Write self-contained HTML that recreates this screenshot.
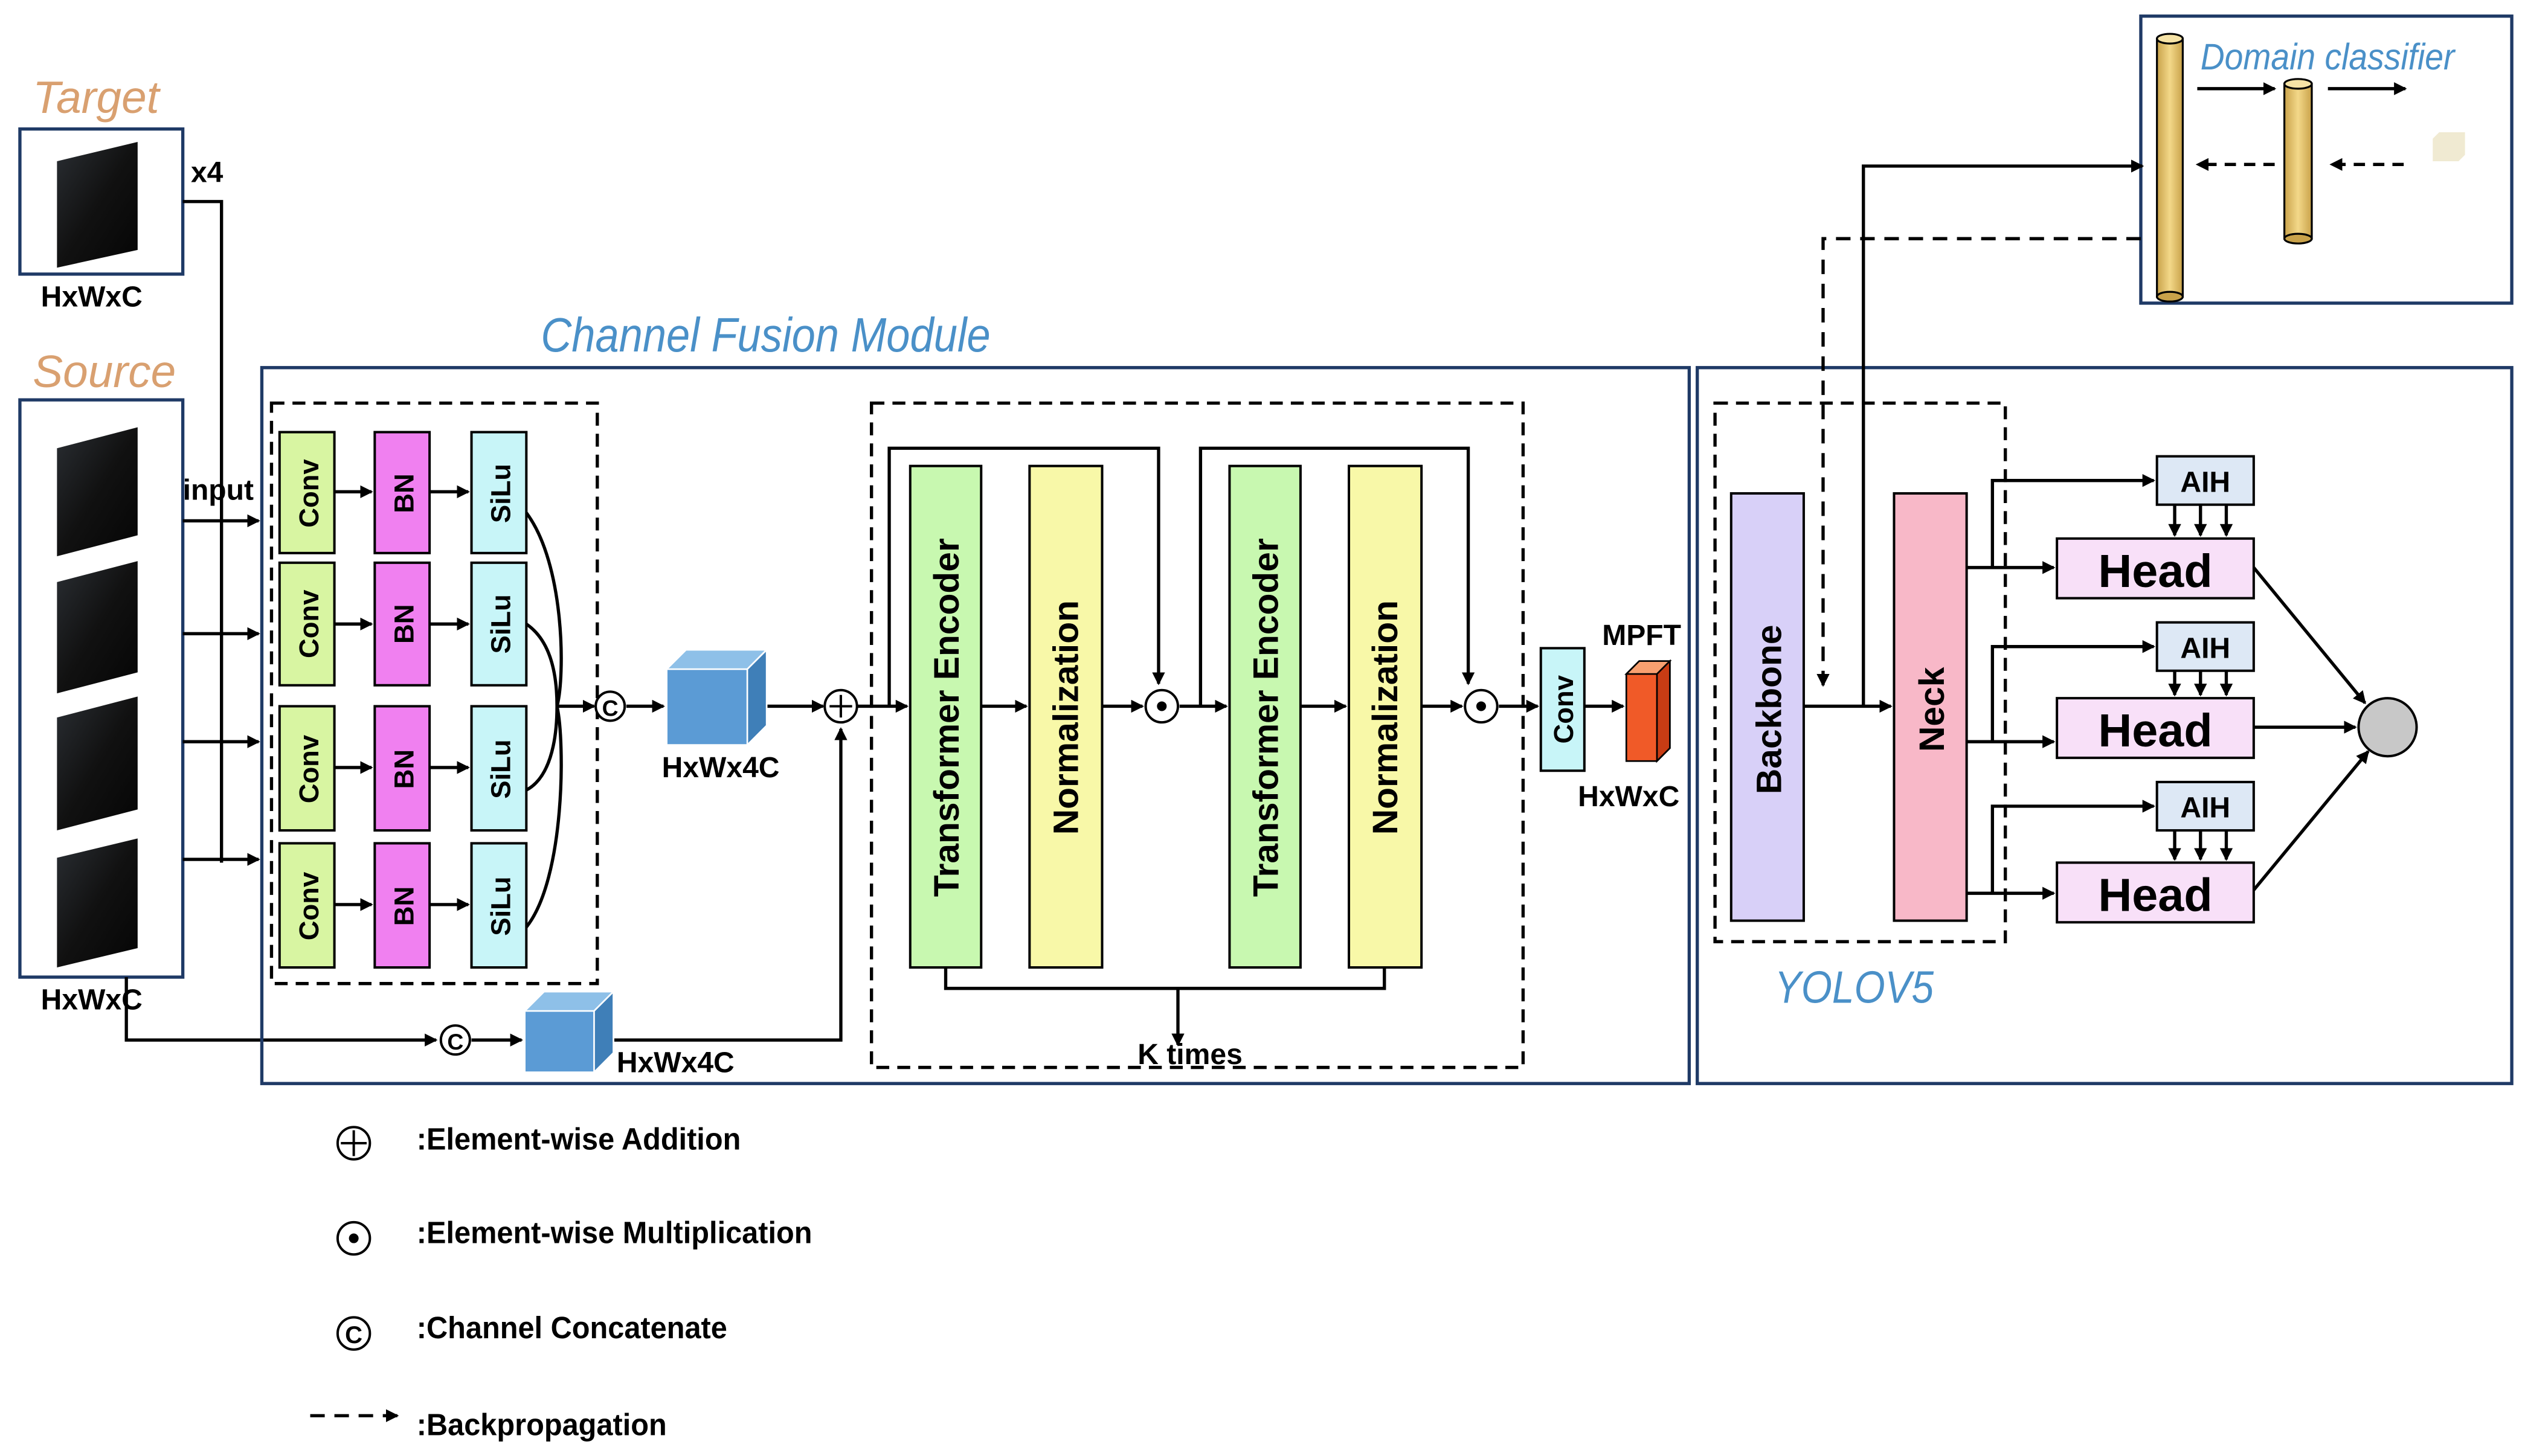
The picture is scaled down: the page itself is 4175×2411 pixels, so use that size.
<!DOCTYPE html>
<html><head><meta charset="utf-8"><style>
html,body{margin:0;padding:0;background:#fff}
svg{display:block}
text{font-family:"Liberation Sans",sans-serif;font-weight:bold}
.t{font-style:italic;font-weight:normal}
</style></head><body>
<svg width="4175" height="2411" viewBox="0 0 1563 903" xmlns="http://www.w3.org/2000/svg">
<defs>
<marker id="a" markerWidth="8" markerHeight="8" refX="7" refY="4" orient="auto" markerUnits="userSpaceOnUse"><path d="M0,0 L8,4 L0,8z" fill="#000"/></marker>
<linearGradient id="img" x1="0" y1="0" x2="1" y2="1"><stop offset="0" stop-color="#2a2e33"/><stop offset="0.5" stop-color="#111"/><stop offset="1" stop-color="#050505"/></linearGradient>
<linearGradient id="cyl" x1="0" x2="1"><stop offset="0" stop-color="#c9a24a"/><stop offset="0.5" stop-color="#f3d889"/><stop offset="1" stop-color="#c9a24a"/></linearGradient>
</defs>
<g fill="none" stroke="#000" stroke-width="2">
<rect x="12" y="80" width="101" height="90" stroke="#1f3a66"/>
<rect x="12" y="248" width="101" height="358" stroke="#1f3a66"/>
</g>
<g fill="url(#img)">
<path d="M35,100 L85,88 L85,155 L35,166z"/>
<path d="M35,278 L85,265 L85,332 L35,345z"/>
<path d="M35,361 L85,348 L85,417 L35,430z"/>
<path d="M35,445 L85,432 L85,502 L35,515z"/>
<path d="M35,532 L85,520 L85,588 L35,600z"/>
</g>
<text x="20" y="70" class="t" font-size="28" fill="#d9a070">Target</text>
<text x="20" y="240" class="t" font-size="28" fill="#d9a070">Source</text>
<text x="118" y="113" font-size="18">x4</text>
<text x="25" y="190" font-size="18">HxWxC</text>
<text x="25" y="626" font-size="18">HxWxC</text>
<text x="113" y="310" font-size="18">input</text>
<g fill="none" stroke="#000" stroke-width="2">
<path d="M113,125 H137 V535"/>
<path d="M113,323 H160" marker-end="url(#a)"/>
<path d="M113,393 H160" marker-end="url(#a)"/>
<path d="M113,460 H160" marker-end="url(#a)"/>
<path d="M113,533 H160" marker-end="url(#a)"/>
<path d="M78,606 V645 H270" marker-end="url(#a)"/>
<path d="M292,645 H323" marker-end="url(#a)"/>
<path d="M380,645 H521 V452" marker-end="url(#a)"/>
<rect x="162" y="228" width="885" height="444" stroke="#1f3a66"/>
<rect x="168" y="250" width="202" height="360" stroke-dasharray="8,5"/>
<rect x="540" y="250" width="404" height="412" stroke-dasharray="8,5"/>
<rect x="1052" y="228" width="505" height="444" stroke="#1f3a66"/>
<rect x="1063" y="250" width="180" height="334" stroke-dasharray="8,5"/>
<rect x="1327" y="10" width="230" height="178" stroke="#1f3a66"/>
</g>
<text x="335" y="218" class="t" font-size="30" fill="#4a90c8" transform="translate(335,0) scale(0.88,1) translate(-335,0)">Channel Fusion Module</text>
<g stroke="#000" stroke-width="1.5">
<g fill="#d8f5a2"><rect x="173" y="268" width="34" height="75"/><rect x="173" y="349" width="34" height="76"/><rect x="173" y="438" width="34" height="77"/><rect x="173" y="523" width="34" height="77"/></g>
<g fill="#f080f0"><rect x="232" y="268" width="34" height="75"/><rect x="232" y="349" width="34" height="76"/><rect x="232" y="438" width="34" height="77"/><rect x="232" y="523" width="34" height="77"/></g>
<g fill="#c8f5f8"><rect x="292" y="268" width="34" height="75"/><rect x="292" y="349" width="34" height="76"/><rect x="292" y="438" width="34" height="77"/><rect x="292" y="523" width="34" height="77"/></g>
</g>
<g font-size="17" text-anchor="middle">
<text transform="translate(197,306) rotate(-90)">Conv</text><text transform="translate(197,387) rotate(-90)">Conv</text><text transform="translate(197,477) rotate(-90)">Conv</text><text transform="translate(197,562) rotate(-90)">Conv</text>
<text transform="translate(256,306) rotate(-90)">BN</text><text transform="translate(256,387) rotate(-90)">BN</text><text transform="translate(256,477) rotate(-90)">BN</text><text transform="translate(256,562) rotate(-90)">BN</text>
<text transform="translate(316,306) rotate(-90)">SiLu</text><text transform="translate(316,387) rotate(-90)">SiLu</text><text transform="translate(316,477) rotate(-90)">SiLu</text><text transform="translate(316,562) rotate(-90)">SiLu</text>
</g>
<g fill="none" stroke="#000" stroke-width="2">
<path d="M207,305 H230" marker-end="url(#a)"/><path d="M266,305 H290" marker-end="url(#a)"/>
<path d="M207,387 H230" marker-end="url(#a)"/><path d="M266,387 H290" marker-end="url(#a)"/>
<path d="M207,476 H230" marker-end="url(#a)"/><path d="M266,476 H290" marker-end="url(#a)"/>
<path d="M207,561 H230" marker-end="url(#a)"/><path d="M266,561 H290" marker-end="url(#a)"/>
<path d="M326,318 C350,350 350,420 345,438"/>
<path d="M326,387 C345,400 345,430 345,438"/>
<path d="M326,490 C345,480 345,445 345,438"/>
<path d="M326,575 C350,545 350,460 345,438"/>
<path d="M345,438 H368" marker-end="url(#a)"/>
<path d="M388,438 H411" marker-end="url(#a)"/>
<path d="M475,438 H510" marker-end="url(#a)"/>
<path d="M531,438 H562" marker-end="url(#a)"/>
<path d="M608,438 H636" marker-end="url(#a)"/>
<path d="M683,438 H708" marker-end="url(#a)"/>
<path d="M731,438 H760" marker-end="url(#a)"/>
<path d="M806,438 H834" marker-end="url(#a)"/>
<path d="M881,438 H906" marker-end="url(#a)"/>
<path d="M929,438 H953" marker-end="url(#a)"/>
<path d="M982,438 H1006" marker-end="url(#a)"/>
<path d="M551,438 V278 H718 V424" marker-end="url(#a)"/>
<path d="M744,438 V278 H910 V424" marker-end="url(#a)"/>
<path d="M586,600 V613 H858 V600"/>
<path d="M730,613 V648" marker-end="url(#a)"/>
</g>
<g fill="#fff" stroke="#000" stroke-width="1.5">
<circle cx="378" cy="438" r="9"/><circle cx="282" cy="645" r="9"/>
<circle cx="521" cy="438" r="10"/>
<circle cx="720" cy="438" r="10"/><circle cx="918" cy="438" r="10"/>
</g>
<text x="378" y="444" font-size="14" text-anchor="middle" font-weight="normal">C</text>
<text x="282" y="651" font-size="14" text-anchor="middle" font-weight="normal">C</text>
<path d="M521,431 V445 M514,438 H528" stroke="#000" stroke-width="1.5"/>
<circle cx="720" cy="438" r="3" fill="#000"/><circle cx="918" cy="438" r="3" fill="#000"/>
<g stroke="#fff" stroke-width="1">
<path d="M413,415 L425,403 H475 V450 L463,462 H413z" fill="#5b9bd5"/>
<path d="M413,415 L425,403 H475 L463,415z" fill="#8ec0e8"/><path d="M463,415 L475,403 V450 L463,462z" fill="#3f7fb8"/>
<path d="M325,627 L337,615 H380 V653 L368,665 H325z" fill="#5b9bd5"/>
<path d="M325,627 L337,615 H380 L368,627z" fill="#8ec0e8"/><path d="M368,627 L380,615 V653 L368,665z" fill="#3f7fb8"/>
</g>
<g stroke="#000" stroke-width="1">
<path d="M1008,418 L1016,410 H1035 V464 L1027,472 H1008z" fill="#f05a28"/>
<path d="M1008,418 L1016,410 H1035 L1027,418z" fill="#f8a070"/><path d="M1027,418 L1035,410 V464 L1027,472z" fill="#c83c14"/>
</g>
<text x="410" y="482" font-size="18">HxWx4C</text>
<text x="382" y="665" font-size="18">HxWx4C</text>
<text x="993" y="400" font-size="18">MPFT</text>
<text x="978" y="500" font-size="18">HxWxC</text>
<text x="705" y="660" font-size="18" font-weight="normal">K  times</text>
<g stroke="#000" stroke-width="1.5">
<rect x="564" y="289" width="44" height="311" fill="#c8f8b0"/>
<rect x="638" y="289" width="45" height="311" fill="#f8f8a8"/>
<rect x="762" y="289" width="44" height="311" fill="#c8f8b0"/>
<rect x="836" y="289" width="45" height="311" fill="#f8f8a8"/>
<rect x="955" y="402" width="27" height="76" fill="#c8f5f8"/>
</g>
<g font-size="22" text-anchor="middle">
<text transform="translate(594,445) rotate(-90)">Transformer Encoder</text>
<text transform="translate(668,445) rotate(-90)">Normalization</text>
<text transform="translate(792,445) rotate(-90)">Transformer Encoder</text>
<text transform="translate(866,445) rotate(-90)">Normalization</text>
<text transform="translate(975,440) rotate(-90)" font-size="17">Conv</text>
</g>
<g stroke="#000" stroke-width="1.5">
<rect x="1073" y="306" width="45" height="265" fill="#d8d0f8"/>
<rect x="1174" y="306" width="45" height="265" fill="#f8b8c8"/>
<rect x="1275" y="334" width="122" height="37" fill="#f8e0f8"/>
<rect x="1275" y="433" width="122" height="37" fill="#f8e0f8"/>
<rect x="1275" y="535" width="122" height="37" fill="#f8e0f8"/>
<rect x="1337" y="283" width="60" height="30" fill="#dde8f5"/>
<rect x="1337" y="386" width="60" height="30" fill="#dde8f5"/>
<rect x="1337" y="485" width="60" height="30" fill="#dde8f5"/>
<circle cx="1480" cy="451" r="18" fill="#c8c8c8"/>
</g>
<g font-size="22" text-anchor="middle">
<text transform="translate(1104,440) rotate(-90)">Backbone</text>
<text transform="translate(1205,440) rotate(-90)">Neck</text>
</g>
<g font-size="29" text-anchor="middle" font-weight="normal"><text x="1336" y="364">Head</text><text x="1336" y="463">Head</text><text x="1336" y="565">Head</text></g>
<g font-size="18" text-anchor="middle" font-weight="normal"><text x="1367" y="305">AIH</text><text x="1367" y="408">AIH</text><text x="1367" y="507">AIH</text></g>
<text x="1100" y="622" class="t" font-size="28" fill="#4a90c8" transform="translate(1100,0) scale(0.88,1) translate(-1100,0)">YOLOV5</text>
<g fill="none" stroke="#000" stroke-width="2">
<path d="M1118,438 H1172" marker-end="url(#a)"/>
<path d="M1219,352 H1273" marker-end="url(#a)"/>
<path d="M1219,460 H1273" marker-end="url(#a)"/>
<path d="M1219,554 H1273" marker-end="url(#a)"/>
<path d="M1235,352 V298 H1335" marker-end="url(#a)"/>
<path d="M1235,460 V401 H1335" marker-end="url(#a)"/>
<path d="M1235,554 V500 H1335" marker-end="url(#a)"/>
<path d="M1348,313 V332" marker-end="url(#a)"/><path d="M1364,313 V332" marker-end="url(#a)"/><path d="M1380,313 V332" marker-end="url(#a)"/>
<path d="M1348,416 V431" marker-end="url(#a)"/><path d="M1364,416 V431" marker-end="url(#a)"/><path d="M1380,416 V431" marker-end="url(#a)"/>
<path d="M1348,515 V533" marker-end="url(#a)"/><path d="M1364,515 V533" marker-end="url(#a)"/><path d="M1380,515 V533" marker-end="url(#a)"/>
<path d="M1397,352 L1466,436" marker-end="url(#a)"/>
<path d="M1397,451 H1460" marker-end="url(#a)"/>
<path d="M1397,552 L1468,466" marker-end="url(#a)"/>
<path d="M1155,438 V103 H1328" marker-end="url(#a)"/>
<path d="M1327,148 H1130 V425" stroke-dasharray="9,6" marker-end="url(#a)"/>
<path d="M1362,55 H1410" marker-end="url(#a)"/>
<path d="M1443,55 H1491" marker-end="url(#a)"/>
<path d="M1410,102 H1362" stroke-dasharray="7,5" marker-end="url(#a)"/>
<path d="M1490,102 H1445" stroke-dasharray="7,5" marker-end="url(#a)"/>
</g>
<g stroke="#000" stroke-width="1.2">
<rect x="1337" y="24" width="16" height="160" fill="url(#cyl)"/>
<ellipse cx="1345" cy="24" rx="8" ry="3" fill="#f6e3a6"/><ellipse cx="1345" cy="184" rx="8" ry="3" fill="#c9a24a"/>
<rect x="1416" y="52" width="17" height="96" fill="url(#cyl)"/>
<ellipse cx="1424.5" cy="52" rx="8.5" ry="3" fill="#f6e3a6"/><ellipse cx="1424.5" cy="148" rx="8.5" ry="3" fill="#c9a24a"/>
</g>
<path d="M1508,86 L1512,82 H1528 V96 L1524,100 H1508z" fill="#f0ead2"/>
<text x="1364" y="43" class="t" font-size="23" fill="#4a90c8" transform="translate(1364,0) scale(0.9,1) translate(-1364,0)">Domain classifier</text>
<g fill="#fff" stroke="#000" stroke-width="1.5">
<circle cx="219" cy="709" r="10"/><circle cx="219" cy="768" r="10"/><circle cx="219" cy="827" r="10"/>
</g>
<path d="M219,701 V717 M211,709 H227" stroke="#000" stroke-width="1.5"/>
<circle cx="219" cy="768" r="3" fill="#000"/>
<text x="219" y="833" font-size="15" text-anchor="middle" font-weight="normal">C</text>
<path d="M192,878 H246" stroke="#000" stroke-width="2" stroke-dasharray="9,6" marker-end="url(#a)"/>
<g font-size="19" transform="translate(258,0) scale(0.96,1) translate(-258,0)">
<text x="258" y="713">:Element-wise  Addition</text>
<text x="258" y="771">:Element-wise  Multiplication</text>
<text x="258" y="830">:Channel  Concatenate</text>
<text x="258" y="890">:Backpropagation</text>
</g>
</svg>
</body></html>
